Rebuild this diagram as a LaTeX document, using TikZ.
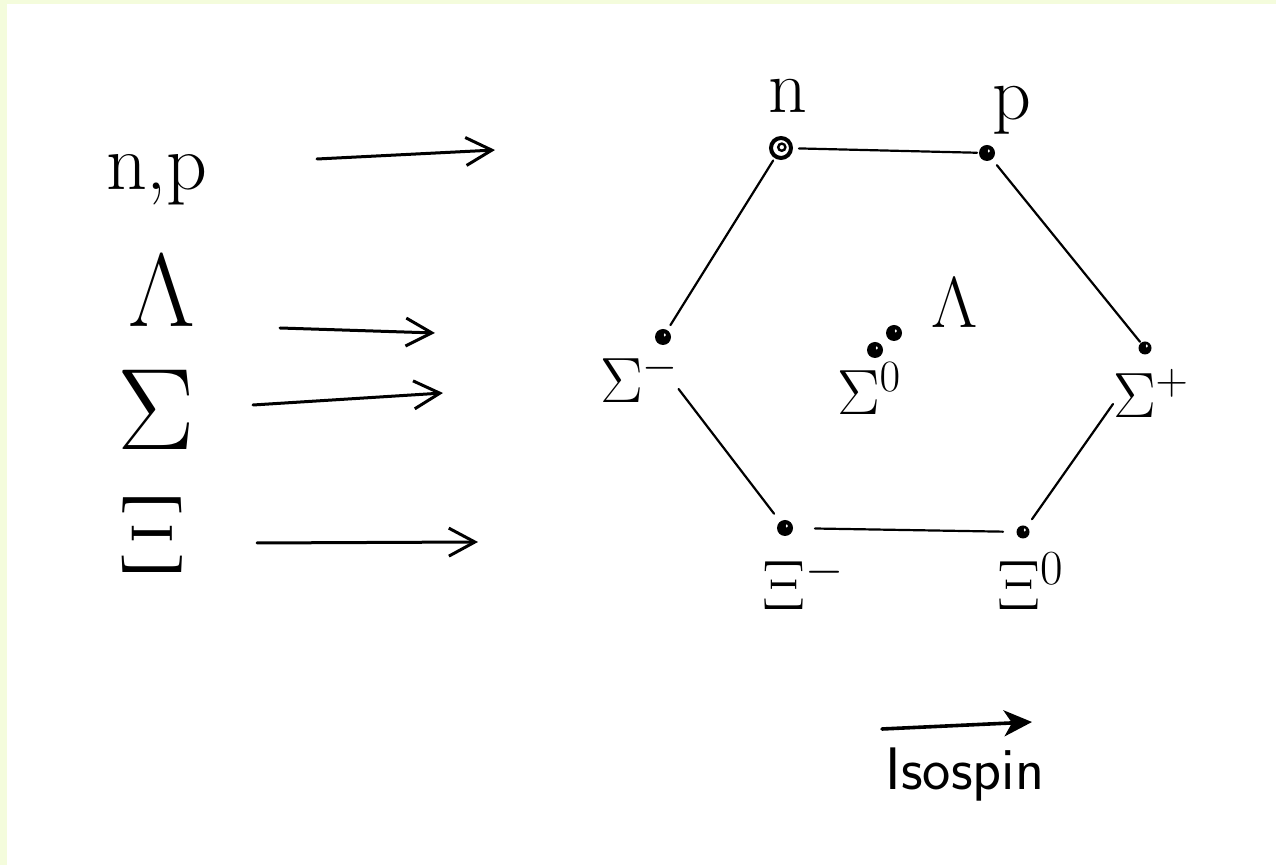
\RequirePackage{fix-cm}
\documentclass[tikz,border=0pt]{standalone}
\usetikzlibrary{arrows.meta}
\definecolor{paper}{RGB}{244,252,220}
\newcommand{\setfs}[1]{\fontsize{#1}{#1}\selectfont}
\tikzset{
  every node/.style={inner sep=0pt, outer sep=0pt},
  dot/.style={circle, fill=black, minimum size=8pt,
    path picture={\fill[white] ([shift={(0.9pt,1pt)}]path picture bounding box.center) ellipse (0.5pt and 0.9pt);}},
  smalldot/.style={dot, minimum size=6.5pt},
  ringdot/.style={circle, draw=black, line width=2pt, minimum size=10pt,
    path picture={\draw[line width=1.2pt] ([shift={(0.4pt,0.4pt)}]path picture bounding box.center) circle (1.8pt);}},
  edge/.style={line width=1.1pt, line cap=round},
  mapto/.style={line width=1.5pt, line cap=round,
    -{Straight Barb[length=13pt,width=14pt]}},
  isoarrow/.style={line width=1.8pt, line cap=round,
    -{Stealth[length=14pt,width=13pt,inset=4pt]}}
}
\begin{document}
\begin{tikzpicture}[x=0.5pt, y=-0.5pt]
  % paper with its tinted edge
  \fill[paper] (0,0) rectangle (1276,865);
  \fill[white] (7,4) rectangle (1276,865);
  \useasboundingbox (0,0) rectangle (1276,865);

  % left column: the families
  \node[font=\setfs{40}, anchor=base] (np)  at (157,190) {n,p};
  \node[font=\setfs{52}, anchor=base] (lam) at (162,327) {$\Lambda$};
  \node[font=\setfs{58}, anchor=base] (sig) at (156,450) {$\Sigma$};
  \node[font=\setfs{55}, anchor=base] (xi)  at (152,573) {$\Xi$};

  \coordinate (a1s) at (317,159); \coordinate (a1e) at (495,150);
  \coordinate (a2s) at (280,328); \coordinate (a2e) at (435,333);
  \coordinate (a3s) at (253,405); \coordinate (a3e) at (443,393);
  \coordinate (a4s) at (257,543); \coordinate (a4e) at (478,542);
  \draw[mapto] (a1s) -- (a1e);
  \draw[mapto] (a2s) -- (a2e);
  \draw[mapto] (a3s) -- (a3e);
  \draw[mapto] (a4s) -- (a4e);

  % the octet points
  \node[ringdot]  (n)  at (781,148) {};
  \node[dot]      (p)  at (987,153) {};
  \node[dot]      (sm) at (663,337) {};
  \node[dot]      (s0) at (875,350) {};
  \node[dot]      (l0) at (894,333) {};
  \node[smalldot] (sp) at (1145,348) {};
  \node[dot]      (xm) at (785,528) {};
  \node[smalldot] (x0) at (1023,532) {};

  % their names
  \node[font=\setfs{38}, anchor=base]      (nl)  at (788,113)  {n};
  \node[font=\setfs{38}, anchor=base]      (pl)  at (1012,120) {p};
  \node[font=\setfs{32}, anchor=base west] (sml) at (600,403)  {$\Sigma^{-}$};
  \node[font=\setfs{32}, anchor=base west] (s0l) at (837,415)  {$\Sigma^{0}$};
  \node[font=\setfs{36}, anchor=base]      (l0l) at (955,328)  {$\Lambda$};
  \node[font=\setfs{32}, anchor=base west] (spl) at (1113,418) {$\Sigma^{+}$};
  \node[font=\setfs{35}, anchor=base west] (xml) at (762,610)  {$\Xi^{-}$};
  \node[font=\setfs{35}, anchor=base west] (x0l) at (997,610)  {$\Xi^{0}$};

  % hexagon sides
  \draw[edge, shorten <=9pt,   shorten >=5pt]   (n.center)  -- (p.center);
  \draw[edge, shorten <=7.4pt, shorten >=7pt]   (n.center)  -- (sm.center);
  \draw[edge, shorten <=7.8pt, shorten >=4pt]   (p.center)  -- (sp.center);
  \draw[edge, shorten >=9pt]   ([yshift=7pt]sml.south east) -- (xm.center);
  \draw[edge, shorten >=7.8pt] ([yshift=7pt]spl.south west) -- (x0.center);
  \draw[edge, shorten <=15pt,  shorten >=10pt]  (xm.center) -- (x0.center);

  % isospin direction
  \coordinate (isoA) at (882,729);
  \coordinate (isoB) at (1032,722);
  \draw[isoarrow] (isoA) -- (isoB);
  \node[font=\sffamily\setfs{30}, anchor=base] (iso) at (965,790) {Isospin};
\end{tikzpicture}
\end{document}
